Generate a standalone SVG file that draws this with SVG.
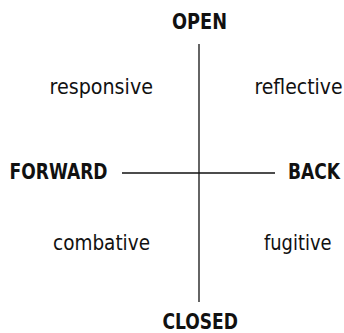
<svg xmlns="http://www.w3.org/2000/svg" width="344" height="333" viewBox="0 0 344 333">
<style>
text{font-family:"Liberation Sans Narrow","DejaVu Sans Condensed","Liberation Sans",sans-serif;fill:#111;}
.pole{font-weight:bold;font-size:21px;}
.quad{font-size:21px;}
.axis{stroke:#111;stroke-width:1.3;fill:none;}
</style>
<rect width="344" height="333" fill="#fff"/>
<g id="connectors">
<line class="axis" x1="199" y1="44" x2="199" y2="302"/>
<line class="axis" x1="122" y1="173" x2="275" y2="173"/>
</g>
<g id="open"><text class="pole" x="172" y="29" textLength="55" lengthAdjust="spacingAndGlyphs">OPEN</text></g>
<g id="closed"><text class="pole" x="162.5" y="329" textLength="75.5" lengthAdjust="spacingAndGlyphs">CLOSED</text></g>
<g id="forward"><text class="pole" x="9.5" y="179" textLength="98" lengthAdjust="spacingAndGlyphs">FORWARD</text></g>
<g id="back"><text class="pole" x="288" y="179" textLength="52" lengthAdjust="spacingAndGlyphs">BACK</text></g>
<g id="responsive"><text class="quad" x="49.5" y="94" textLength="103.5" lengthAdjust="spacingAndGlyphs">responsive</text></g>
<g id="reflective"><text class="quad" x="254.5" y="94" textLength="88" lengthAdjust="spacingAndGlyphs">reflective</text></g>
<g id="combative"><text class="quad" x="53" y="250" textLength="97" lengthAdjust="spacingAndGlyphs">combative</text></g>
<g id="fugitive"><text class="quad" x="264" y="250" textLength="67.5" lengthAdjust="spacingAndGlyphs">fugitive</text></g>
</svg>
